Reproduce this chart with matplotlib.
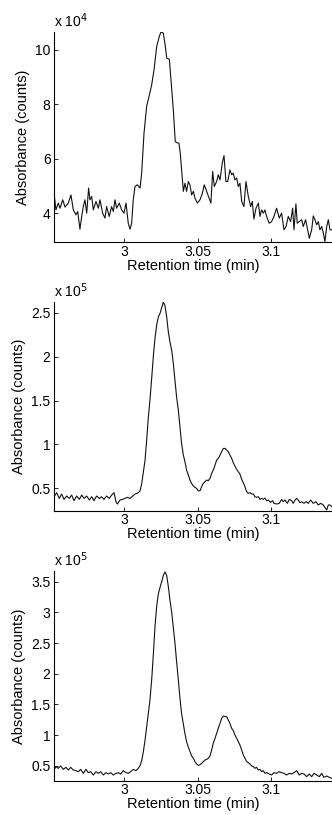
import numpy as np
import matplotlib
matplotlib.use("Agg")
import matplotlib.pyplot as plt
from matplotlib.ticker import FormatStrFormatter

plt.rcParams['font.family'] = ['Liberation Sans', 'DejaVu Sans']
plt.rcParams['font.size'] = 10

# Chromatogram A (absorbance in units of 1e4 counts)
time_a = [2.9525, 2.9538, 2.9554, 2.9566, 2.9584, 2.9600, 2.9622, 2.9640, 2.9656, 2.9674,
          2.9686, 2.9701, 2.9713, 2.9724, 2.9735, 2.9747, 2.9760, 2.9769, 2.9781, 2.9792,
          2.9810, 2.9826, 2.9837, 2.9855, 2.9871, 2.9882, 2.9900, 2.9916, 2.9928, 2.9939,
          2.9950, 2.9968, 2.9984, 3.0000, 3.0014, 3.0029, 3.0041, 3.0052, 3.0063, 3.0075,
          3.0090, 3.0109, 3.0120, 3.0136, 3.0154, 3.0170, 3.0188, 3.0204, 3.0222, 3.0240,
          3.0251, 3.0267, 3.0281, 3.0290, 3.0308, 3.0324, 3.0335, 3.0348, 3.0357, 3.0373,
          3.0382, 3.0391, 3.0403, 3.0414, 3.0425, 3.0437, 3.0448, 3.0459, 3.0471, 3.0482,
          3.0498, 3.0516, 3.0532, 3.0545, 3.0561, 3.0577, 3.0590, 3.0602, 3.0613, 3.0629,
          3.0640, 3.0652, 3.0667, 3.0679, 3.0692, 3.0704, 3.0719, 3.0731, 3.0742, 3.0753,
          3.0765, 3.0776, 3.0787, 3.0799, 3.0814, 3.0828, 3.0844, 3.0860, 3.0871, 3.0882,
          3.0896, 3.0912, 3.0923, 3.0934, 3.0946, 3.0957, 3.0968, 3.0986, 3.1002, 3.1018,
          3.1036, 3.1054, 3.1070, 3.1086, 3.1100, 3.1115, 3.1131, 3.1145, 3.1154, 3.1167,
          3.1176, 3.1190, 3.1206, 3.1217, 3.1233, 3.1247, 3.1258, 3.1274, 3.1285, 3.1296,
          3.1308, 3.1319, 3.1330, 3.1342, 3.1353, 3.1364, 3.1376, 3.1387, 3.1398, 3.1412]
abs_a = [4.76, 4.12, 4.37, 4.18, 4.49, 4.22, 4.37, 4.67, 4.12, 3.94,
         4.06, 3.41, 3.88, 4.24, 4.49, 4.00, 4.92, 4.49, 4.61, 4.12,
         4.43, 4.18, 4.49, 4.00, 3.82, 4.24, 3.88, 4.24, 4.06, 4.49,
         4.18, 4.37, 4.12, 4.00, 4.37, 3.63, 3.41, 3.63, 4.49, 4.98,
         5.04, 4.92, 5.47, 6.94, 7.92, 8.28, 8.71, 9.26, 10.12, 10.49,
         10.65, 10.61, 10.12, 9.69, 9.65, 8.53, 7.79, 6.63, 6.59, 6.57,
         6.20, 5.59, 4.80, 5.10, 4.80, 5.16, 5.04, 4.67, 4.80, 4.55,
         4.37, 4.49, 4.73, 5.04, 4.80, 4.55, 4.37, 5.53, 4.98, 5.16,
         5.41, 5.22, 5.84, 6.11, 5.16, 5.16, 5.59, 5.41, 5.47, 5.22,
         5.29, 4.98, 5.10, 4.43, 4.24, 5.16, 4.61, 4.24, 4.43, 3.78,
         4.18, 4.37, 3.88, 4.12, 4.00, 4.12, 3.88, 3.63, 3.69, 3.88,
         4.18, 3.82, 4.00, 3.39, 3.51, 3.88, 3.69, 4.18, 3.39, 4.34,
         3.63, 3.69, 3.76, 3.51, 3.76, 3.39, 3.08, 3.39, 3.90, 3.76,
         3.57, 3.69, 3.39, 3.51, 3.27, 2.96, 3.51, 3.76, 3.39, 3.39]

# Chromatogram B (units of 1e5 counts)
time_b = [2.9525, 2.9543, 2.9561, 2.9577, 2.9593, 2.9611, 2.9629, 2.9645, 2.9661, 2.9679,
          2.9697, 2.9713, 2.9729, 2.9747, 2.9765, 2.9781, 2.9796, 2.9814, 2.9833, 2.9848,
          2.9864, 2.9882, 2.9900, 2.9916, 2.9932, 2.9946, 2.9955, 2.9973, 2.9991, 3.0007,
          3.0023, 3.0041, 3.0059, 3.0075, 3.0090, 3.0109, 3.0120, 3.0131, 3.0143, 3.0154,
          3.0165, 3.0176, 3.0188, 3.0199, 3.0210, 3.0222, 3.0233, 3.0244, 3.0256, 3.0267,
          3.0278, 3.0290, 3.0301, 3.0312, 3.0324, 3.0335, 3.0346, 3.0357, 3.0369, 3.0380,
          3.0391, 3.0403, 3.0414, 3.0425, 3.0437, 3.0448, 3.0459, 3.0471, 3.0482, 3.0493,
          3.0505, 3.0516, 3.0527, 3.0538, 3.0550, 3.0561, 3.0572, 3.0584, 3.0595, 3.0606,
          3.0618, 3.0629, 3.0640, 3.0652, 3.0663, 3.0674, 3.0686, 3.0697, 3.0708, 3.0719,
          3.0731, 3.0742, 3.0753, 3.0765, 3.0776, 3.0787, 3.0799, 3.0810, 3.0821, 3.0833,
          3.0844, 3.0855, 3.0867, 3.0878, 3.0889, 3.0900, 3.0912, 3.0923, 3.0934, 3.0946,
          3.0957, 3.0968, 3.0980, 3.0995, 3.1009, 3.1018, 3.1036, 3.1054, 3.1070, 3.1081,
          3.1093, 3.1109, 3.1122, 3.1138, 3.1149, 3.1161, 3.1172, 3.1183, 3.1195, 3.1206,
          3.1222, 3.1235, 3.1251, 3.1267, 3.1285, 3.1303, 3.1319, 3.1335, 3.1353, 3.1364,
          3.1376, 3.1387, 3.1398, 3.1412]
abs_b = [0.405, 0.451, 0.386, 0.436, 0.375, 0.413, 0.386, 0.424, 0.360, 0.413,
         0.375, 0.424, 0.386, 0.413, 0.367, 0.405, 0.360, 0.413, 0.386, 0.405,
         0.375, 0.413, 0.386, 0.424, 0.451, 0.348, 0.322, 0.367, 0.375, 0.386,
         0.398, 0.386, 0.413, 0.436, 0.443, 0.470, 0.550, 0.680, 0.820, 1.050,
         1.300, 1.500, 1.750, 2.000, 2.200, 2.360, 2.451, 2.489, 2.557, 2.621,
         2.583, 2.451, 2.280, 2.167, 2.072, 1.920, 1.731, 1.542, 1.390, 1.201,
         1.011, 0.879, 0.803, 0.708, 0.652, 0.595, 0.557, 0.527, 0.511, 0.500,
         0.473, 0.473, 0.519, 0.557, 0.576, 0.595, 0.587, 0.614, 0.670, 0.708,
         0.765, 0.822, 0.841, 0.879, 0.917, 0.955, 0.955, 0.936, 0.917, 0.879,
         0.841, 0.792, 0.754, 0.716, 0.689, 0.663, 0.602, 0.564, 0.519, 0.462,
         0.443, 0.451, 0.436, 0.436, 0.405, 0.398, 0.405, 0.375, 0.386, 0.375,
         0.390, 0.360, 0.367, 0.341, 0.360, 0.330, 0.322, 0.330, 0.375, 0.348,
         0.367, 0.330, 0.375, 0.360, 0.330, 0.367, 0.386, 0.367, 0.337, 0.348,
         0.330, 0.348, 0.330, 0.367, 0.330, 0.348, 0.311, 0.330, 0.311, 0.284,
         0.254, 0.311, 0.311, 0.292]

# Chromatogram C (units of 1e5 counts)
time_c = [2.9525, 2.9538, 2.9554, 2.9570, 2.9588, 2.9606, 2.9622, 2.9638, 2.9656, 2.9674,
          2.9690, 2.9706, 2.9724, 2.9742, 2.9758, 2.9774, 2.9792, 2.9810, 2.9826, 2.9842,
          2.9860, 2.9878, 2.9894, 2.9910, 2.9928, 2.9946, 2.9962, 2.9977, 2.9995, 3.0014,
          3.0029, 3.0045, 3.0063, 3.0081, 3.0097, 3.0109, 3.0120, 3.0131, 3.0143, 3.0154,
          3.0165, 3.0176, 3.0188, 3.0199, 3.0210, 3.0222, 3.0233, 3.0244, 3.0256, 3.0267,
          3.0278, 3.0290, 3.0301, 3.0312, 3.0324, 3.0335, 3.0346, 3.0357, 3.0369, 3.0380,
          3.0391, 3.0403, 3.0414, 3.0425, 3.0437, 3.0448, 3.0459, 3.0471, 3.0482, 3.0493,
          3.0505, 3.0516, 3.0527, 3.0538, 3.0550, 3.0561, 3.0572, 3.0584, 3.0595, 3.0606,
          3.0618, 3.0629, 3.0640, 3.0652, 3.0663, 3.0674, 3.0686, 3.0697, 3.0708, 3.0719,
          3.0731, 3.0742, 3.0753, 3.0765, 3.0776, 3.0787, 3.0799, 3.0810, 3.0821, 3.0833,
          3.0844, 3.0855, 3.0867, 3.0878, 3.0889, 3.0900, 3.0912, 3.0923, 3.0934, 3.0946,
          3.0957, 3.0968, 3.0986, 3.1002, 3.1018, 3.1036, 3.1054, 3.1070, 3.1086, 3.1104,
          3.1122, 3.1138, 3.1154, 3.1172, 3.1190, 3.1206, 3.1222, 3.1240, 3.1258, 3.1274,
          3.1290, 3.1308, 3.1326, 3.1342, 3.1357, 3.1376, 3.1394, 3.1412]
abs_c = [0.429, 0.484, 0.457, 0.495, 0.440, 0.473, 0.429, 0.473, 0.429, 0.418,
         0.402, 0.440, 0.375, 0.440, 0.386, 0.402, 0.348, 0.402, 0.375, 0.402,
         0.348, 0.386, 0.364, 0.386, 0.348, 0.375, 0.386, 0.364, 0.418, 0.386,
         0.375, 0.402, 0.440, 0.418, 0.457, 0.500, 0.580, 0.720, 0.920, 1.130,
         1.350, 1.560, 1.900, 2.300, 2.750, 3.100, 3.300, 3.400, 3.500, 3.600,
         3.660, 3.600, 3.420, 3.200, 3.000, 2.750, 2.500, 2.200, 1.900, 1.600,
         1.350, 1.180, 1.020, 0.890, 0.800, 0.730, 0.660, 0.620, 0.565, 0.527,
         0.505, 0.516, 0.538, 0.565, 0.592, 0.603, 0.620, 0.658, 0.755, 0.864,
         0.946, 1.027, 1.109, 1.190, 1.272, 1.310, 1.299, 1.299, 1.245, 1.190,
         1.109, 1.071, 1.000, 0.946, 0.891, 0.837, 0.755, 0.674, 0.620, 0.565,
         0.549, 0.527, 0.495, 0.484, 0.457, 0.473, 0.429, 0.440, 0.402, 0.418,
         0.375, 0.386, 0.364, 0.348, 0.386, 0.375, 0.402, 0.386, 0.375, 0.348,
         0.375, 0.364, 0.386, 0.418, 0.348, 0.375, 0.364, 0.321, 0.364, 0.321,
         0.375, 0.348, 0.321, 0.375, 0.310, 0.332, 0.310, 0.293]

x_ticks = [3.0, 3.05, 3.1]
x_tick_labels = ['3', '3.05', '3.1']

panels = [
    (time_a, abs_a, 4, (2.93, 10.65), [4, 6, 8, 10]),
    (time_b, abs_b, 5, (0.246, 2.625), [0.5, 1, 1.5, 2, 2.5]),
    (time_c, abs_c, 5, (0.255, 3.674), [0.5, 1, 1.5, 2, 2.5, 3, 3.5]),
]

W, H = 332, 815
fig = plt.figure(figsize=(W / 100, H / 100), dpi=100)

# axes boxes in pixels: (left, top, bottom)
boxes = [(54, 32, 242.3), (54, 301.7, 510.7), (54, 571, 780.7)]

for (t, a, exp, ylim, yt), (left, top, bottom) in zip(panels, boxes):
    ax = fig.add_axes([left / W, 1 - bottom / H, (W - left) / W, (bottom - top) / H])
    ax.plot(t, a, color='#111111', lw=0.8)
    ax.set_xlim(2.9525, 3.1412)
    ax.set_ylim(*ylim)
    ax.set_xticks(x_ticks)
    ax.set_xticklabels(x_tick_labels)
    ax.set_yticks(yt)
    ax.yaxis.set_major_formatter(FormatStrFormatter('%g'))
    ax.tick_params(direction='in', length=3, width=0.6, labelsize=10, pad=2.5)
    ax.tick_params(axis='x', pad=2)
    for s in ['top', 'right']:
        ax.spines[s].set_visible(False)
    for s in ['left', 'bottom']:
        ax.spines[s].set_linewidth(0.8)
    ax.set_xlabel('Retention time (min)', fontsize=10.5, labelpad=0)
    ax.set_ylabel('Absorbance (counts)', fontsize=10.5, labelpad=4)
    ax.text(0, 1.01, 'x 10$^{%d}$' % exp, transform=ax.transAxes,
            ha='left', va='bottom', fontsize=10)

fig.savefig('out.png', dpi=100)
